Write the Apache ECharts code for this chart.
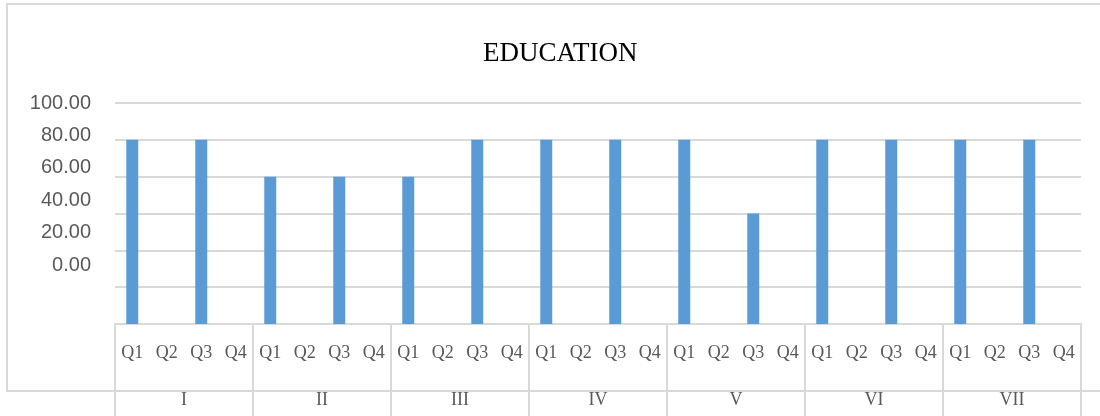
<!DOCTYPE html>
<html><head><meta charset="utf-8">
<script src="https://cdn.jsdelivr.net/npm/echarts@6/dist/echarts.min.js"></script>
<style>html,body{margin:0;padding:0;background:#fff}#c{width:1100px;height:416px}</style>
</head><body><div id="c"></div>
<script>
const groups = ['I','II','III','IV','V','VI','VII'];
const quarters = ['Q1','Q2','Q3','Q4'];
// values per group, Q1..Q4 (null = no bar)
const valI   = [100, null, 100, null];
const valII  = [80, null, 80, null];
const valIII = [80, null, 100, null];
const valIV  = [100, null, 100, null];
const valV   = [100, null, 60, null];
const valVI  = [100, null, 100, null];
const valVII = [100, null, 100, null];
const yTickLabels = [0, 20, 40, 60, 80, 100];

const allVals = [].concat(valI, valII, valIII, valIV, valV, valVI, valVII);
const cats = [];
groups.forEach(function(){ quarters.forEach(function(q){ cats.push(q); }); });

const grey = '#d9d9d9';
const txt = '#595959';
const chart = echarts.init(document.getElementById('c'));
chart.setOption({
  animation: false,
  title: { text: 'EDUCATION', left: 478, top: 35,
    textStyle: { fontFamily: 'Liberation Serif', fontSize: 27, fontWeight: 'normal', color: '#000' } },
  graphic: [{ type: 'polyline', shape: { points: [[1100,4],[7,4],[7,391],[1100,391]] },
    style: { stroke: grey, lineWidth: 2, fill: null }, z: 0 }],
  grid: [
    { left: 115, right: 19, top: 103, bottom: 92 },
    { left: 115, right: 19, top: 103, height: 162 }
  ],
  xAxis: [
    { type: 'category', gridIndex: 0, data: cats,
      axisLine: { show: false }, axisTick: { show: false },
      axisLabel: { interval: 0, margin: 20, color: txt, fontFamily: 'Liberation Serif', fontSize: 18 } },
    { type: 'category', gridIndex: 0, data: groups, position: 'bottom',
      axisLine: { show: true, lineStyle: { color: grey, width: 2 } },
      axisTick: { show: true, length: 100, lineStyle: { color: grey, width: 2 } },
      axisLabel: { interval: 0, margin: 67, color: txt, fontFamily: 'Liberation Serif', fontSize: 18 } },
    { type: 'category', gridIndex: 1, data: groups, show: false }
  ],
  yAxis: [
    { type: 'value', gridIndex: 0, min: 0, max: 120, interval: 20,
      axisLabel: { show: false }, axisLine: { show: false }, axisTick: { show: false },
      splitLine: { lineStyle: { color: grey, width: 2 } } },
    { type: 'value', gridIndex: 1, min: yTickLabels[0], max: yTickLabels[yTickLabels.length-1], interval: 20,
      axisLine: { show: false }, axisTick: { show: false }, splitLine: { show: false },
      axisLabel: { margin: 24, color: txt, fontFamily: 'Liberation Sans', fontSize: 20,
        formatter: function(v){ return v.toFixed(2); } } }
  ],
  series: [{ type: 'bar', xAxisIndex: 0, yAxisIndex: 0, data: allVals, barWidth: 12,
    itemStyle: { color: '#5b9bd5' } }]
});
</script></body></html>
